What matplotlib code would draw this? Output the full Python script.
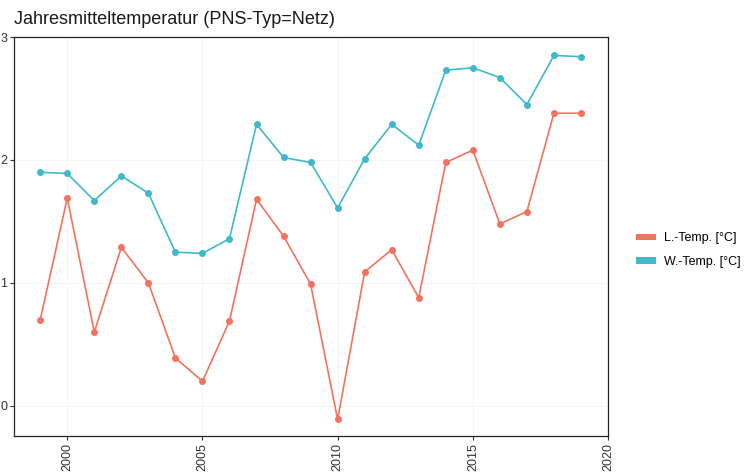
import numpy as np
import matplotlib
matplotlib.use("Agg")
import matplotlib.pyplot as plt
from matplotlib.patches import Patch

plt.rcParams['font.family'] = ['Liberation Sans', 'DejaVu Sans']

years = list(range(1999, 2020))
l_temp = [0.70, 1.69, 0.60, 1.29, 1.00, 0.39, 0.20, 0.69, 1.68, 1.38, 0.99,
          -0.11, 1.09, 1.27, 0.88, 1.98, 2.08, 1.48, 1.58, 2.38, 2.38]
w_temp = [1.90, 1.89, 1.67, 1.87, 1.73, 1.25, 1.24, 1.36, 2.29, 2.02, 1.98,
          1.61, 2.01, 2.29, 2.12, 2.73, 2.75, 2.67, 2.45, 2.85, 2.84]
series_labels = ["L.-Temp. [°C]", "W.-Temp. [°C]"]
x_ticks = [2000, 2005, 2010, 2015, 2020]
y_ticks = [0, 1, 2, 3]

col_l = "#F3735E"
col_w = "#3FB9CB"

fig = plt.figure(figsize=(7.45, 4.73), dpi=100)
ax = fig.add_axes([14 / 745, 1 - 436 / 473, (608 - 14) / 745, (436 - 37) / 473])

ax.plot(years, l_temp, color=col_l, lw=1.2, marker="o", ms=4)
ax.plot(years, w_temp, color=col_w, lw=1.2, marker="o", ms=4)

ax.set_xlim(1998.03, 2020)
ax.set_ylim(-0.245, 3.0)
ax.set_xticks(x_ticks)
ax.set_yticks(y_ticks)
ax.set_xticklabels([str(t) for t in x_ticks], rotation=90)
ax.tick_params(axis="both", labelsize=9, color="#333333", labelcolor="#333333",
               length=3, width=0.8, direction="out", pad=2)
ax.grid(True, color="#f4f4f4", lw=0.6)
for s in ax.spines.values():
    s.set_color("#222222")
    s.set_linewidth(0.9)

fig.text(14 / 745, 1 - 19 / 473, "Jahresmitteltemperatur (PNS-Typ=Netz)",
         fontsize=13, va="center", ha="left", color="#1a1a1a")

handles = [Patch(facecolor=col_l), Patch(facecolor=col_w)]
fig.legend(handles, series_labels, loc="center left", frameon=False,
           bbox_to_anchor=(625 / 745, 1 - 250 / 473), fontsize=9,
           handlelength=1.6, handleheight=0.45, handletextpad=0.6,
           labelspacing=0.9)

fig.savefig("out.png", dpi=100)
